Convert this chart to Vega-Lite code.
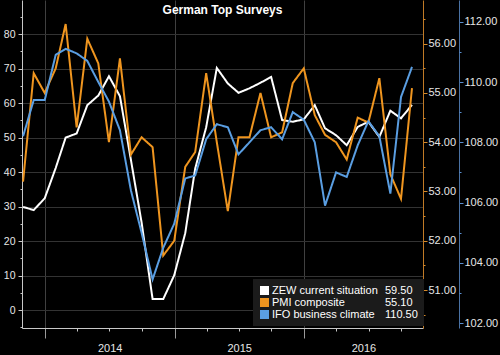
{
  "$schema": "https://vega.github.io/schema/vega-lite/v6.json",
  "width": 401,
  "height": 328,
  "autosize": "none",
  "padding": {"left": 22, "top": 0, "right": 77, "bottom": 27},
  "background": "#000000",
  "config": {
    "view": {"stroke": null},
    "axis": {"labelFont": "Liberation Sans", "titleFont": "Liberation Sans"},
    "legend": {"labelFont": "Liberation Sans"}
  },
  "title": {
    "text": "German Top Surveys",
    "color": "#ffffff",
    "font": "Liberation Sans",
    "fontSize": 12,
    "fontWeight": "bold",
    "anchor": "middle",
    "baseline": "alphabetic",
    "offset": -26
  },
  "data": {
    "values": [
      {"date": "2013-10-31", "zew": 29.9, "pmi": 53.2, "ifo": 108.2},
      {"date": "2013-11-30", "zew": 29.0, "pmi": 55.4, "ifo": 109.4},
      {"date": "2013-12-31", "zew": 32.4, "pmi": 55.0, "ifo": 109.4},
      {"date": "2014-01-31", "zew": 41.2, "pmi": 55.5, "ifo": 110.9},
      {"date": "2014-02-28", "zew": 50.0, "pmi": 56.4, "ifo": 111.1},
      {"date": "2014-03-31", "zew": 51.2, "pmi": 54.3, "ifo": 110.95},
      {"date": "2014-04-30", "zew": 59.4, "pmi": 56.1, "ifo": 110.7},
      {"date": "2014-05-31", "zew": 62.2, "pmi": 55.6, "ifo": 110.0},
      {"date": "2014-06-30", "zew": 67.8, "pmi": 54.0, "ifo": 109.35},
      {"date": "2014-07-31", "zew": 62.0, "pmi": 55.7, "ifo": 108.4},
      {"date": "2014-08-31", "zew": 43.5, "pmi": 53.75, "ifo": 106.4},
      {"date": "2014-09-30", "zew": 25.4, "pmi": 54.1, "ifo": 105.0},
      {"date": "2014-10-31", "zew": 3.2, "pmi": 53.9, "ifo": 103.45},
      {"date": "2014-11-30", "zew": 3.2, "pmi": 51.7, "ifo": 104.5},
      {"date": "2014-12-31", "zew": 10.1, "pmi": 52.0, "ifo": 105.3},
      {"date": "2015-01-31", "zew": 22.3, "pmi": 53.5, "ifo": 106.8},
      {"date": "2015-02-28", "zew": 41.0, "pmi": 53.8, "ifo": 106.9},
      {"date": "2015-03-31", "zew": 53.0, "pmi": 55.4, "ifo": 108.1},
      {"date": "2015-04-30", "zew": 70.2, "pmi": 54.0, "ifo": 108.6},
      {"date": "2015-05-31", "zew": 65.7, "pmi": 52.6, "ifo": 108.5},
      {"date": "2015-06-30", "zew": 63.0, "pmi": 54.1, "ifo": 107.6},
      {"date": "2015-07-31", "zew": 64.3, "pmi": 54.1, "ifo": 108.0},
      {"date": "2015-08-31", "zew": 65.9, "pmi": 55.0, "ifo": 108.4},
      {"date": "2015-09-30", "zew": 67.6, "pmi": 54.1, "ifo": 108.5},
      {"date": "2015-10-31", "zew": 55.1, "pmi": 54.2, "ifo": 108.1},
      {"date": "2015-11-30", "zew": 54.6, "pmi": 55.2, "ifo": 109.0},
      {"date": "2015-12-31", "zew": 55.3, "pmi": 55.5, "ifo": 108.75},
      {"date": "2016-01-31", "zew": 59.4, "pmi": 54.55, "ifo": 108.0},
      {"date": "2016-02-29", "zew": 52.7, "pmi": 54.15, "ifo": 105.9},
      {"date": "2016-03-31", "zew": 50.7, "pmi": 54.0, "ifo": 107.0},
      {"date": "2016-04-30", "zew": 47.8, "pmi": 53.65, "ifo": 106.85},
      {"date": "2016-05-31", "zew": 53.1, "pmi": 54.5, "ifo": 107.9},
      {"date": "2016-06-30", "zew": 54.6, "pmi": 54.4, "ifo": 108.7},
      {"date": "2016-07-31", "zew": 50.2, "pmi": 55.3, "ifo": 108.2},
      {"date": "2016-08-31", "zew": 57.8, "pmi": 53.35, "ifo": 106.3},
      {"date": "2016-09-30", "zew": 55.6, "pmi": 52.85, "ifo": 109.5},
      {"date": "2016-10-31", "zew": 59.5, "pmi": 55.1, "ifo": 110.5}
    ]
  },
  "layer": [
    {
      "mark": {"type": "line", "strokeWidth": 2},
      "encoding": {
        "x": {
          "field": "date", "type": "temporal",
          "scale": {"domain": [{"year": 2013, "month": 10, "date": 28}, {"year": 2016, "month": 12, "date": 1}]},
          "axis": {
            "orient": "bottom", "title": null, "labels": false,
            "values": [{"year": 2014, "month": 1, "date": 1}, {"year": 2015, "month": 1, "date": 1}, {"year": 2016, "month": 1, "date": 1}],
            "grid": true, "gridColor": "#404040", "gridWidth": 1,
            "ticks": true, "tickSize": 10, "tickColor": "#9a9a9a",
            "domain": true, "domainColor": "#c8c8c8"
          }
        },
        "y": {
          "field": "zew", "type": "quantitative",
          "scale": {"domain": [-5.2, 89.9], "nice": false, "zero": false},
          "axis": {
            "orient": "left", "title": null,
            "values": [0, 10, 20, 30, 40, 50, 60, 70, 80],
            "grid": true, "gridColor": "#333333",
            "domainColor": "#c8c8c8", "tickColor": "#c8c8c8", "tickSize": 4,
            "labelColor": "#e6e6e6", "labelFontSize": 10.5, "labelPadding": 3
          }
        },
        "color": {
          "datum": "ZEW current situation",
          "scale": {"domain": ["ZEW current situation", "PMI composite", "IFO business climate"], "range": ["#ffffff", "#ef951f", "#5a9ee2"]},
          "legend": {
            "orient": "none", "legendX": 231, "legendY": 279, "title": null, "zindex": 3,
            "fillColor": "#1b1b1b", "padding": 6,
            "symbolType": "square", "symbolSize": 81, "symbolStrokeWidth": 0,
            "labelColor": "#ffffff", "labelFontSize": 11, "labelOffset": 2, "rowPadding": 0,
            "encode": {"symbols": {"update": {"fill": {"field": "value", "scale": "color"}, "fillOpacity": {"value": 1}, "strokeWidth": {"value": 0}}}}
          }
        },
        "strokeDash": {
          "datum": "59.50",
          "scale": {"domain": ["59.50", "55.10", "110.50"], "range": [[1, 0], [1, 0], [1, 0]]},
          "legend": {
            "orient": "none", "legendX": 346, "legendY": 279, "title": null, "zindex": 1,
            "fillColor": "#1b1b1b", "padding": 6,
            "symbolSize": 0, "symbolStrokeWidth": 0, "symbolOpacity": 0,
            "labelColor": "#ffffff", "labelFontSize": 11, "labelOffset": 0, "rowPadding": 0
          }
        }
      }
    },
    {
      "mark": {"type": "line", "strokeWidth": 2},
      "encoding": {
        "x": {
          "field": "date", "type": "temporal",
          "axis": {
            "orient": "bottom", "title": null, "labels": false, "grid": false, "domain": false,
            "values": [{"year": 2014, "month": 4, "date": 1}, {"year": 2014, "month": 7, "date": 1}, {"year": 2014, "month": 10, "date": 1},
                       {"year": 2015, "month": 4, "date": 1}, {"year": 2015, "month": 7, "date": 1}, {"year": 2015, "month": 10, "date": 1},
                       {"year": 2016, "month": 4, "date": 1}, {"year": 2016, "month": 7, "date": 1}, {"year": 2016, "month": 10, "date": 1}],
            "ticks": true, "tickSize": 3, "tickColor": "#c8c8c8"
          }
        },
        "y": {
          "field": "pmi", "type": "quantitative",
          "scale": {"domain": [50.229, 56.887], "nice": false, "zero": false},
          "axis": {
            "orient": "right", "title": null,
            "values": [51, 52, 53, 54, 55, 56], "format": ".2f",
            "grid": false,
            "domainColor": "#c07a26", "tickColor": "#d68a2a", "tickSize": 4,
            "labelColor": "#e6e6e6", "labelFontSize": 11, "labelPadding": 1
          }
        },
        "color": {"datum": "PMI composite"},
        "strokeDash": {"datum": "55.10"}
      }
    },
    {
      "mark": {"type": "line", "strokeWidth": 2},
      "encoding": {
        "x": {
          "field": "date", "type": "temporal",
          "axis": {
            "orient": "bottom", "title": null, "grid": false, "domain": false, "ticks": false, "tickSize": 0,
            "values": [{"year": 2014, "month": 7, "date": 2}, {"year": 2015, "month": 7, "date": 2}, {"year": 2016, "month": 6, "date": 16}],
            "labelExpr": "timeFormat(datum.value, '%Y')",
            "labelColor": "#e6e6e6", "labelFontSize": 11, "labelPadding": 14
          }
        },
        "y": {
          "field": "ifo", "type": "quantitative",
          "scale": {"domain": [101.84, 112.72], "nice": false, "zero": false},
          "axis": {
            "orient": "right", "offset": 36, "title": null,
            "values": [102, 104, 106, 108, 110, 112], "format": ".2f",
            "grid": false,
            "domainColor": "#4a72a4", "tickColor": "#5a8fd0", "tickSize": 4,
            "labelColor": "#e6e6e6", "labelFontSize": 11, "labelPadding": 1
          }
        },
        "color": {"datum": "IFO business climate"},
        "strokeDash": {"datum": "110.50"}
      }
    },
    {
      "mark": {"type": "line", "opacity": 0},
      "encoding": {
        "x": {"field": "date", "type": "temporal", "axis": null},
        "y": {
          "field": "zew", "type": "quantitative",
          "scale": {"domain": [-5.2, 89.9], "nice": false, "zero": false},
          "axis": {"orient": "left", "title": null, "labels": false, "grid": false, "domain": false,
                   "values": [-5, 5, 15, 25, 35, 45, 55, 65, 75, 85], "tickSize": 2, "tickColor": "#c8c8c8"}
        }
      }
    },
    {
      "mark": {"type": "line", "opacity": 0},
      "encoding": {
        "x": {"field": "date", "type": "temporal", "axis": null},
        "y": {
          "field": "pmi", "type": "quantitative",
          "scale": {"domain": [50.229, 56.887], "nice": false, "zero": false},
          "axis": {"orient": "right", "title": null, "labels": false, "grid": false, "domain": false,
                   "values": [50.5, 51.5, 52.5, 53.5, 54.5, 55.5, 56.5], "tickSize": 2, "tickColor": "#d68a2a"}
        }
      }
    },
    {
      "mark": {"type": "line", "opacity": 0},
      "encoding": {
        "x": {"field": "date", "type": "temporal", "axis": null},
        "y": {
          "field": "ifo", "type": "quantitative",
          "scale": {"domain": [101.84, 112.72], "nice": false, "zero": false},
          "axis": {"orient": "right", "offset": 36, "title": null, "labels": false, "grid": false, "domain": false,
                   "values": [103, 105, 107, 109, 111], "tickSize": 2, "tickColor": "#5a8fd0"}
        }
      }
    }
  ],
  "resolve": {"scale": {"y": "independent"}, "axis": {"x": "independent"}}
}
